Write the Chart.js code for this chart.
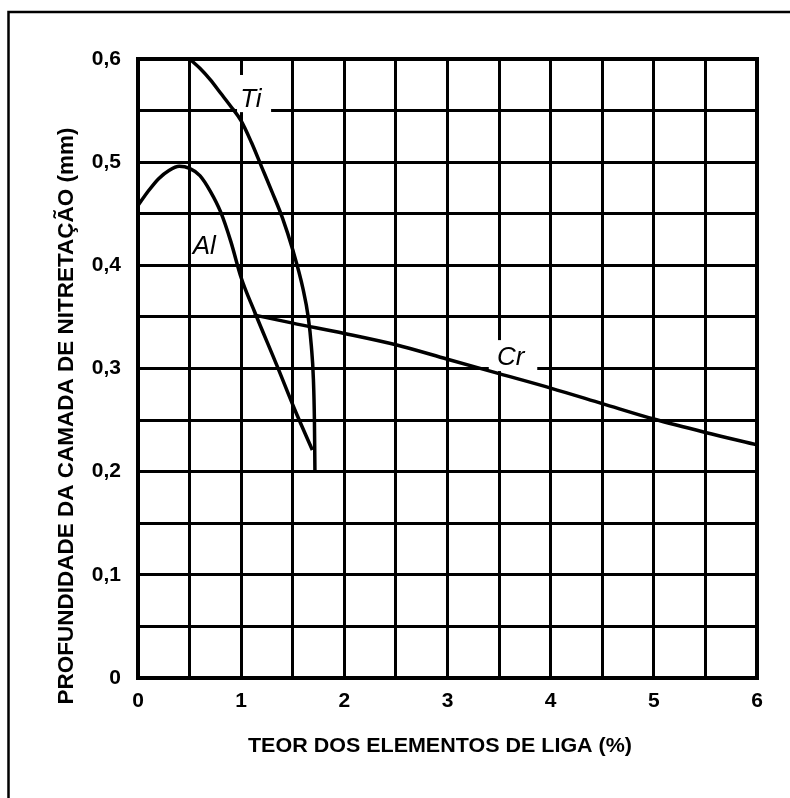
<!DOCTYPE html>
<html>
<head>
<meta charset="utf-8">
<script src="https://cdn.jsdelivr.net/npm/chart.js@4"></script>
<style>
  html, body { margin: 0; padding: 0; background: #fff; }
  #wrap { width: 790px; height: 798px; }
</style>
</head>
<body>
<div id="wrap"><canvas id="c" width="790" height="798"></canvas></div>
<script>
// Nitrided case depth (mm) against alloying element content (%)
const tiCurve = [
  [0.5, 0.600], [0.6, 0.591], [0.7, 0.580], [0.8, 0.567], [0.9, 0.554],
  [1.0, 0.540], [1.1, 0.519], [1.2, 0.495], [1.3, 0.471], [1.4, 0.446],
  [1.5, 0.415], [1.6, 0.377], [1.65, 0.350], [1.68, 0.322], [1.70, 0.290],
  [1.71, 0.250], [1.715, 0.200]
];
const alCurve = [
  [0.0, 0.458], [0.1, 0.472], [0.2, 0.484], [0.3, 0.492], [0.4, 0.496],
  [0.5, 0.494], [0.6, 0.487], [0.7, 0.472], [0.8, 0.452], [0.9, 0.423],
  [1.0, 0.388], [1.13, 0.355], [1.35, 0.302], [1.52, 0.260], [1.69, 0.221]
];
const crCurve = [
  [1.12, 0.352], [1.5, 0.344], [2.0, 0.334], [2.5, 0.323], [3.0, 0.309],
  [3.5, 0.295], [4.0, 0.281], [4.5, 0.266], [5.0, 0.251], [5.5, 0.238],
  [6.0, 0.226]
];
const curveNames = ['Ti', 'Al', 'Cr'];
const xTickLabels = ['0', '1', '2', '3', '4', '5', '6'];
const yTickLabels = ['0', '0,1', '0,2', '0,3', '0,4', '0,5', '0,6'];
const xTitle = 'TEOR DOS ELEMENTOS DE LIGA (%)';
const yTitle = 'PROFUNDIDADE DA CAMADA DE NITRETAÇÃO (mm)';

const FONT = '"Liberation Sans", Arial, Helvetica, sans-serif';

function toPoints(arr) { return arr.map(p => ({ x: p[0], y: p[1] })); }

// label anchors (data units) and the white patches that cut the grid behind them
const curveLabels = {
  Ti: { x: 0.99, y: 0.553, box: [0.96, 0.5845, 1.29, 0.5485] },
  Al: { x: 0.53, y: 0.411, box: null },
  Cr: { x: 3.48, y: 0.303, box: [3.40, 0.3275, 3.87, 0.2975] }
};

// draw text stretched/condensed horizontally to an exact width
function fitText(ctx, text, cx, cy, font, width, rotate) {
  ctx.save();
  ctx.font = font;
  ctx.fillStyle = '#000';
  ctx.textAlign = 'center';
  ctx.textBaseline = 'middle';
  const w = ctx.measureText(text).width;
  ctx.translate(cx, cy);
  if (rotate) ctx.rotate(-Math.PI / 2);
  ctx.scale(width / w, 1);
  ctx.fillText(text, 0, 0);
  ctx.restore();
}

const decor = {
  id: 'decor',
  beforeDraw(chart) {
    const ctx = chart.ctx;
    ctx.save();
    ctx.fillStyle = '#fff';
    ctx.fillRect(0, 0, chart.width, chart.height);
    // outer frame of the figure
    ctx.strokeStyle = '#000';
    ctx.lineWidth = 2.5;
    ctx.beginPath();
    ctx.moveTo(8.5, chart.height + 5);
    ctx.lineTo(8.5, 12);
    ctx.lineTo(chart.width + 5, 12);
    ctx.stroke();
    ctx.restore();
  },
  beforeDatasetsDraw(chart) {
    const ctx = chart.ctx, xs = chart.scales.x, ys = chart.scales.y;
    ctx.save();
    // frame of the plotting area
    const a = chart.chartArea;
    ctx.strokeStyle = '#000';
    ctx.lineWidth = 4;
    ctx.strokeRect(a.left, a.top, a.right - a.left, a.bottom - a.top);
    ctx.fillStyle = '#fff';
    for (const name of curveNames) {
      const b = curveLabels[name].box;
      if (!b) continue;
      const x0 = xs.getPixelForValue(b[0]), y0 = ys.getPixelForValue(b[1]);
      const x1 = xs.getPixelForValue(b[2]), y1 = ys.getPixelForValue(b[3]);
      ctx.fillRect(x0, y0, x1 - x0, y1 - y0);
    }
    ctx.restore();
  },
  afterDraw(chart) {
    const ctx = chart.ctx, xs = chart.scales.x, ys = chart.scales.y;
    ctx.save();
    ctx.fillStyle = '#000';
    ctx.font = 'italic 26px ' + FONT;
    ctx.textAlign = 'left';
    ctx.textBaseline = 'alphabetic';
    for (const name of curveNames) {
      const l = curveLabels[name];
      ctx.fillText(name, xs.getPixelForValue(l.x), ys.getPixelForValue(l.y));
    }
    ctx.restore();
    fitText(ctx, xTitle, 440, 746, 'bold 21px ' + FONT, 384, false);
    fitText(ctx, yTitle, 67, 416, 'bold 22px ' + FONT, 577, true);
  }
};

const series = [tiCurve, alCurve, crCurve];

new Chart(document.getElementById('c'), {
  type: 'line',
  data: {
    datasets: series.map((s, i) => ({
      label: curveNames[i],
      data: toPoints(s),
      borderColor: '#000',
      borderWidth: 3.5,
      pointRadius: 0,
      cubicInterpolationMode: 'monotone',
      fill: false
    }))
  },
  options: {
    responsive: false,
    animation: false,
    layout: { padding: { left: 78, top: 59, right: 33, bottom: 80 } },
    plugins: { legend: { display: false }, tooltip: { enabled: false } },
    scales: {
      x: {
        type: 'linear',
        min: 0, max: 6,
        afterFit(s) { s.height = 40; },
        grid: { color: '#000', lineWidth: 3, drawTicks: false },
        border: { display: false },
        ticks: {
          stepSize: 0.5,
          padding: 11,
          color: '#000',
          font: { family: FONT, size: 21, weight: 'bold' },
          maxRotation: 0,
          autoSkip: false,
          callback(v) {
            const i = Math.round(v);
            return Math.abs(v - i) < 1e-6 ? xTickLabels[i] : '';
          }
        }
      },
      y: {
        type: 'linear',
        min: 0, max: 0.6,
        afterFit(s) { s.width = 60; },
        grid: { color: '#000', lineWidth: 3, drawTicks: false },
        border: { display: false },
        ticks: {
          stepSize: 0.05,
          padding: 17,
          color: '#000',
          font: { family: FONT, size: 21, weight: 'bold' },
          autoSkip: false,
          callback(v) {
            const i = Math.round(v * 10);
            return Math.abs(v * 10 - i) < 1e-6 ? yTickLabels[i] : '';
          }
        }
      }
    }
  },
  plugins: [decor]
});
</script>
</body>
</html>
